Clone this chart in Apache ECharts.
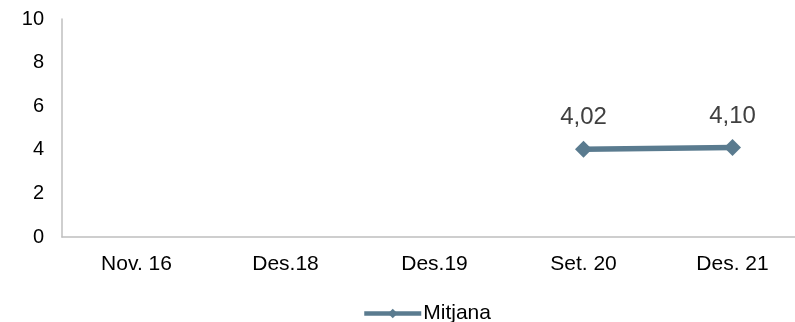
<!DOCTYPE html>
<html>
<head>
<meta charset="utf-8">
<script src="https://cdn.jsdelivr.net/npm/echarts@6/dist/echarts.min.js"></script>
<style>
html,body{margin:0;padding:0;background:#fff;}
#c{width:795px;height:322px;}
</style>
</head>
<body>
<div id="c"></div>
<script>
var categories = ["Nov. 16", "Des.18", "Des.19", "Set. 20", "Des. 21"];
var mitjana = [null, null, null, 4.02, 4.10];
var yTicks = [0, 2, 4, 6, 8, 10];
var seriesName = "Mitjana";

var chart = echarts.init(document.getElementById('c'), null, {renderer: 'canvas'});
var font = '"Liberation Sans", Arial, sans-serif';
chart.setOption({
  animation: false,
  backgroundColor: '#ffffff',
  textStyle: {fontFamily: font},
  grid: {left: 62, width: 745, top: 19, height: 218, containLabel: false, outerBoundsMode: 'none'},
  legend: {
    data: [seriesName],
    left: 357,
    top: 298,
    itemWidth: 57,
    itemHeight: 12,
    itemGap: 10,
    lineStyle: {width: 4.5},
    textStyle: {fontFamily: font, fontSize: 21, color: '#000000', padding: [0,0,0,-3]}
  },
  xAxis: {
    type: 'category',
    data: categories,
    boundaryGap: true,
    axisLine: {show: true, lineStyle: {color: '#BFBFBF', width: 1.5}},
    axisTick: {show: false},
    axisLabel: {fontFamily: font, fontSize: 21, color: '#000000', margin: 17, interval: 0},
    splitLine: {show: false}
  },
  yAxis: {
    type: 'value',
    min: yTicks[0],
    max: yTicks[yTicks.length - 1],
    interval: 2,
    axisLine: {show: true, lineStyle: {color: '#BFBFBF', width: 1.5}},
    axisTick: {show: false},
    axisLabel: {fontFamily: font, fontSize: 20, color: '#000000', margin: 18},
    splitLine: {show: false}
  },
  series: [{
    name: seriesName,
    type: 'line',
    data: mitjana.map(function(v){ return v === null ? '-' : v; }),
    symbol: 'diamond',
    symbolSize: 17,
    lineStyle: {color: '#5A7B8F', width: 5.5},
    itemStyle: {color: '#5A7B8F'},
    label: {
      show: true,
      position: 'top',
      distance: 11,
      fontFamily: font,
      fontSize: 24,
      color: '#404040',
      formatter: function(p){ return p.value.toFixed(2).replace('.', ','); }
    }
  }]
});
</script>
</body>
</html>
